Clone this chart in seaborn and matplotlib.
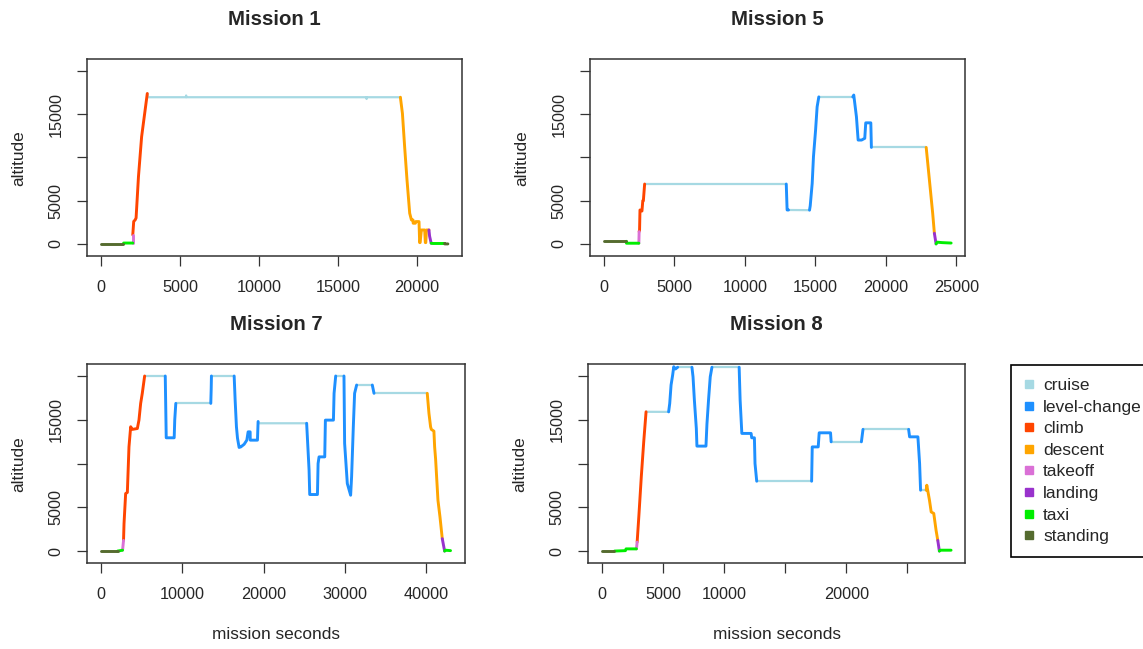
import numpy as np
import pandas as pd
import matplotlib
matplotlib.use('Agg')
import matplotlib.pyplot as plt
import seaborn as sns
from matplotlib.lines import Line2D

# flight phases and colours
phases = ['cruise', 'level-change', 'climb', 'descent', 'takeoff', 'landing', 'taxi', 'standing']
phase_colors = ['#A6D9E3', '#1E90FF', '#FF4500', '#FFA500', '#DA70D6', '#9932CC', '#00EE00', '#556B2F']
codes = {'cr': 'cruise', 'lc': 'level-change', 'cl': 'climb', 'de': 'descent',
         'to': 'takeoff', 'la': 'landing', 'tx': 'taxi', 'st': 'standing'}

titles = ['Mission 1', 'Mission 5', 'Mission 7', 'Mission 8']

# Mission 1
m1_sec = [0, 1410, 1420, 2000, 2000, 2060, 2150, 2210, 2360, 2560, 2920,
          2960, 5370, 5380, 5390, 16800, 16810, 16820, 18950,
          19080, 19220, 19370, 19540, 19650, 19750, 19760, 19900, 19920, 20130, 20170, 20200,
          20280, 20490, 20530, 20560, 20600, 20760,
          20800, 20900, 21000, 21750, 21760, 21960]
m1_alt = [0, 0, 100, 100, 1040, 2600, 2770, 3000, 7760, 12380, 17380,
          16950, 16950, 17150, 16950, 16950, 16750, 16950, 16950,
          15070, 11220, 7380, 3540, 2770, 2770, 2390, 2390, 2580, 2580, 150, 150,
          1610, 1610, 150, 150, 1610, 1610,
          900, 80, 50, 50, 0, 0]
m1_phase = ['st', 'st', 'tx', 'tx', 'to', 'cl', 'cl', 'cl', 'cl', 'cl', 'cl',
            'cr', 'cr', 'cr', 'cr', 'cr', 'cr', 'cr', 'cr',
            'de', 'de', 'de', 'de', 'de', 'de', 'de', 'de', 'de', 'de', 'de', 'de',
            'de', 'de', 'de', 'de', 'de', 'de',
            'la', 'la', 'tx', 'tx', 'st', 'st']

# Mission 5
m5_sec = [0, 1590, 1600, 2480, 2500, 2530, 2560, 2700, 2760, 2800, 2890,
          2950, 12940, 13000, 13100, 14590,
          14640, 14780, 14870, 15020, 15130, 15250, 17660,
          17730, 17920, 18040, 18280, 18510, 18580, 18940, 18980, 22870,
          23330, 23450, 23570, 23650, 24000, 24640]
m5_alt = [300, 300, 80, 80, 1420, 1600, 3920, 3800, 5000, 5000, 6920,
          6920, 6920, 3920, 3920, 3900,
          4400, 7000, 10070, 13150, 15840, 16990, 16990,
          17200, 14680, 12000, 12000, 12200, 13990, 13990, 11150, 11150,
          3540, 1230, 0, 200, 150, 100]
m5_phase = ['st', 'st', 'tx', 'tx', 'to', 'cl', 'cl', 'cl', 'cl', 'cl', 'cl',
            'cr', 'cr', 'lc', 'lc', 'cr',
            'lc', 'lc', 'lc', 'lc', 'lc', 'lc', 'cr',
            'lc', 'lc', 'lc', 'lc', 'lc', 'lc', 'lc', 'lc', 'cr',
            'de', 'de', 'la', 'tx', 'tx', 'tx']

# Mission 7
m7_sec = [0, 2000, 2620, 2740, 2800, 3000, 3210, 3410, 3620, 3820, 4440, 4640, 4850, 5050, 5340,
          7880, 8000, 8980, 9050, 9180, 13490, 13540, 13570, 16370,
          16490, 16650, 16780, 16980, 17190, 17600, 17930, 18090, 18340, 18350, 19240, 19320,
          19400, 25300,
          25390, 25600, 25680, 26630, 26710, 26830, 27530, 27610, 28600, 28680, 28880, 29900,
          29980, 30310, 30720, 30840, 31050, 31210, 31460, 33390, 33600, 40160,
          40370, 40570, 40660, 40980, 41070, 41190, 41480, 41730, 42010,
          42300, 42400, 43030]
m7_alt = [0, 0, 100, 1220, 3130, 6570, 6700, 11900, 14200, 13900, 14000, 14960, 16870, 18020, 20000,
          20000, 12940, 12940, 15000, 16870, 16870, 18500, 20000, 20000,
          17250, 14200, 12900, 11840, 11900, 12200, 12670, 13620, 13620, 12670, 12670, 14800,
          14600, 14600,
          13000, 9240, 6460, 6460, 10000, 10760, 10760, 14960, 14960, 18020, 20000, 20000,
          12300, 7720, 6380, 8500, 14200, 18020, 18970, 18970, 18020, 18020,
          15730, 14200, 13900, 13700, 11900, 10500, 5800, 3890, 1420,
          0, 100, 50]
m7_phase = ['st', 'st', 'tx', 'to', 'cl', 'cl', 'cl', 'cl', 'cl', 'cl', 'cl', 'cl', 'cl', 'cl', 'cl',
            'cr', 'lc', 'lc', 'lc', 'lc', 'cr', 'lc', 'lc', 'cr',
            'lc', 'lc', 'lc', 'lc', 'lc', 'lc', 'lc', 'lc', 'lc', 'lc', 'lc', 'lc',
            'cr', 'cr',
            'lc', 'lc', 'lc', 'lc', 'lc', 'lc', 'lc', 'lc', 'lc', 'lc', 'lc', 'cr',
            'lc', 'lc', 'lc', 'lc', 'lc', 'lc', 'lc', 'cr', 'lc', 'cr',
            'de', 'de', 'de', 'de', 'de', 'de', 'de', 'de', 'de',
            'la', 'tx', 'tx']

# Mission 8
m8_sec = [0, 1000, 1900, 1950, 2800, 2860, 3000, 3200, 3400, 3590, 5440,
          5530, 5640, 5770, 5860, 6000, 6180, 7350,
          7440, 7550, 7710, 7760, 8500, 8580, 8710, 8850, 8990, 11220,
          11300, 11440, 12200, 12250, 12470, 12520, 12660, 17160,
          17210, 17700, 17780, 18710, 18760, 21240, 21370, 25110,
          25190, 25870, 26010, 26090, 26550,
          26600, 26820, 26960, 27170, 27360, 27500, 27630, 27700, 28590]
m8_alt = [0, 0, 50, 250, 250, 1030, 4000, 8500, 12500, 15910, 15900,
          16870, 18970, 20110, 21060, 20800, 21000, 21000,
          19900, 17250, 14010, 11990, 11990, 14500, 17250, 19900, 21000, 21000,
          17250, 13440, 13440, 12940, 12940, 10000, 7980, 7980,
          11900, 11900, 13510, 13510, 12480, 12480, 13900, 13900,
          13050, 13050, 10000, 6950, 6950,
          7520, 5800, 4470, 4300, 2370, 1220, 0, 100, 100]
m8_phase = ['st', 'st', 'tx', 'tx', 'tx', 'to', 'cl', 'cl', 'cl', 'cl', 'cr',
            'lc', 'lc', 'lc', 'lc', 'lc', 'lc', 'cr',
            'lc', 'lc', 'lc', 'lc', 'lc', 'lc', 'lc', 'lc', 'lc', 'cr',
            'lc', 'lc', 'lc', 'lc', 'lc', 'lc', 'lc', 'cr',
            'lc', 'lc', 'lc', 'lc', 'lc', 'cr', 'lc', 'cr',
            'lc', 'lc', 'lc', 'lc', 'cr',
            'de', 'de', 'de', 'de', 'de', 'de', 'la', 'tx', 'tx']

x_ticks = [[0, 5000, 10000, 15000, 20000],
           [0, 5000, 10000, 15000, 20000, 25000],
           [0, 10000, 20000, 30000, 40000],
           [0, 5000, 10000, 15000, 20000, 25000]]
x_labels = [['0', '5000', '10000', '15000', '20000'],
            ['0', '5000', '10000', '15000', '20000', '25000'],
            ['0', '10000', '20000', '30000', '40000'],
            ['0', '5000', '10000', '', '20000', '']]
y_ticks = [0, 5000, 10000, 15000, 20000]
y_labels = ['0', '5000', '', '15000', '']


def mission_frame(sec, alt, phase):
    # each run of one phase is its own line, joined to the previous point
    rows = []
    seg = 0
    for i in range(len(sec)):
        if i > 0 and phase[i] != phase[i - 1]:
            seg += 1
            rows.append((sec[i - 1], alt[i - 1], phase[i], seg))
        rows.append((sec[i], alt[i], phase[i], seg))
    df = pd.DataFrame(rows, columns=['sec', 'alt', 'code', 'seg'])
    df['phase'] = df['code'].map(codes)
    return df


missions = [mission_frame(m1_sec, m1_alt, m1_phase),
            mission_frame(m5_sec, m5_alt, m5_phase),
            mission_frame(m7_sec, m7_alt, m7_phase),
            mission_frame(m8_sec, m8_alt, m8_phase)]

sns.set_style('ticks')
plt.rcParams['font.family'] = ['Liberation Sans', 'DejaVu Sans']

palette = dict(zip(phases, phase_colors))
widths = {p: (1.6 if p == 'cruise' else 2.1) for p in phases}

fig = plt.figure(figsize=(11.43, 6.49), dpi=100)
positions = [[0.0764, 0.6055, 0.3276, 0.3031],
             [0.5162, 0.6055, 0.3281, 0.3031],
             [0.0764, 0.1320, 0.3300, 0.3066],
             [0.5147, 0.1320, 0.3296, 0.3066]]

for i, df in enumerate(missions):
    ax = fig.add_axes(positions[i])
    sns.lineplot(data=df, x='sec', y='alt', hue='phase', size='phase', units='seg',
                 estimator=None, sort=False, palette=palette, hue_order=phases,
                 sizes=widths, size_order=phases, legend=False, ax=ax)
    span = df['sec'].max() - df['sec'].min()
    ax.set_xlim(df['sec'].min() - 0.04 * span, df['sec'].max() + 0.04 * span)
    ax.set_ylim(-1400, 21330)
    ax.set_xticks(x_ticks[i])
    ax.set_xticklabels(x_labels[i])
    ax.set_yticks(y_ticks)
    ax.set_yticklabels(y_labels, rotation=90, va='center')
    ax.tick_params(axis='both', direction='out', length=7, width=0.9, pad=10,
                   labelsize=11.7, color='#333333')
    for sp in ax.spines.values():
        sp.set_visible(True)
        sp.set_linewidth(1.1)
        sp.set_color('#333333')
    ax.set_title(titles[i], fontsize=14.7, fontweight='bold', pad=25)
    ax.set_ylabel('altitude', fontsize=12.4, labelpad=16)
    if i >= 2:
        ax.set_xlabel('mission seconds', fontsize=12.4, labelpad=18)
    else:
        ax.set_xlabel('')

handles = [Line2D([], [], marker='s', linestyle='', markersize=5.5, color=c) for c in phase_colors]
leg = fig.legend(handles, phases, loc='upper left', bbox_to_anchor=(0.8845, 0.4376),
                 frameon=True, fancybox=False, edgecolor='black', framealpha=1,
                 fontsize=12.5, handlelength=0.6, handletextpad=0.5, labelspacing=0.37,
                 borderpad=0.75, borderaxespad=0)
leg.get_frame().set_linewidth(1.2)

plt.savefig('out.png', dpi=100)
